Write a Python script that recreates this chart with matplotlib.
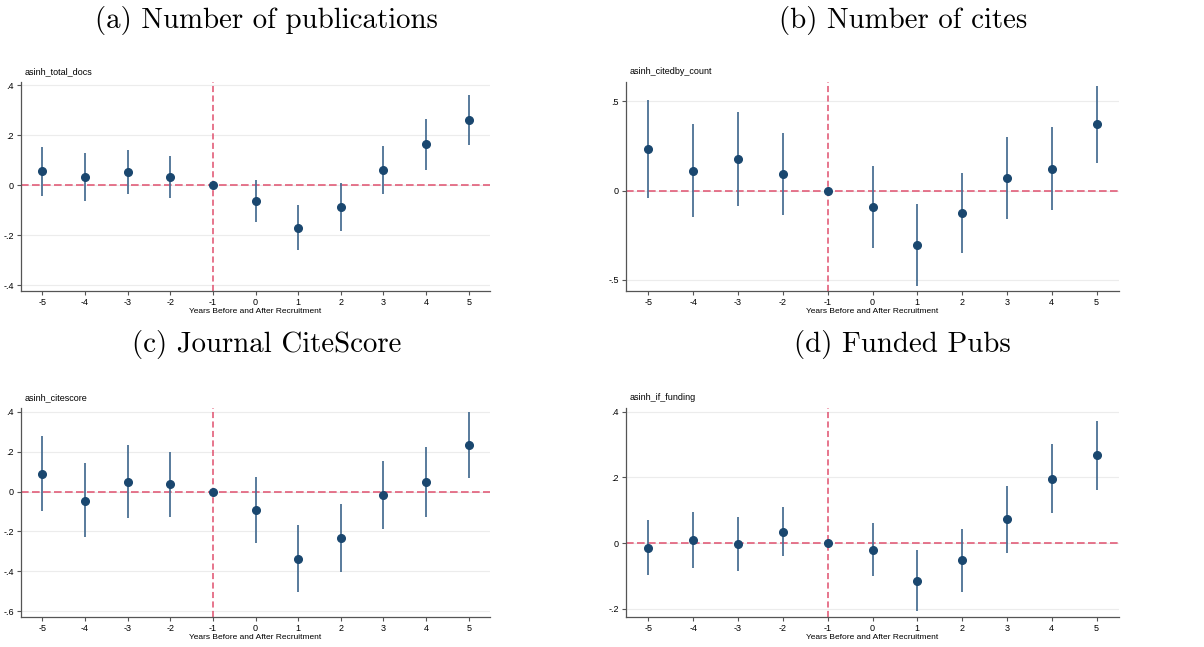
import matplotlib
matplotlib.use("Agg")
import matplotlib.pyplot as plt
import numpy as np

# event time relative to recruitment
years = [-5, -4, -3, -2, -1, 0, 1, 2, 3, 4, 5]

# (a) publications
docs_coef = [0.057, 0.033, 0.052, 0.033, 0.0, -0.063, -0.169, -0.087, 0.061, 0.164, 0.261]
docs_hi = [0.155, 0.128, 0.141, 0.117, 0.0, 0.021, -0.079, 0.008, 0.159, 0.267, 0.361]
docs_lo = [-0.041, -0.061, -0.036, -0.049, 0.0, -0.147, -0.259, -0.181, -0.035, 0.063, 0.161]

# (b) cites
cites_coef = [0.234, 0.112, 0.178, 0.093, 0.0, -0.090, -0.303, -0.125, 0.071, 0.123, 0.372]
cites_hi = [0.510, 0.376, 0.441, 0.323, 0.0, 0.138, -0.073, 0.099, 0.299, 0.355, 0.589]
cites_lo = [-0.041, -0.148, -0.086, -0.136, 0.0, -0.320, -0.533, -0.348, -0.157, -0.107, 0.157]

# (c) citescore
cs_coef = [0.090, -0.045, 0.050, 0.037, 0.0, -0.093, -0.337, -0.232, -0.018, 0.047, 0.233]
cs_hi = [0.277, 0.142, 0.233, 0.200, 0.0, 0.073, -0.168, -0.062, 0.152, 0.223, 0.400]
cs_lo = [-0.097, -0.230, -0.135, -0.130, 0.0, -0.258, -0.502, -0.402, -0.188, -0.130, 0.068]

# (d) funded pubs
fund_coef = [-0.014, 0.008, -0.003, 0.035, 0.0, -0.021, -0.114, -0.053, 0.072, 0.196, 0.267]
fund_hi = [0.070, 0.093, 0.080, 0.110, 0.0, 0.060, -0.022, 0.044, 0.174, 0.301, 0.372]
fund_lo = [-0.098, -0.077, -0.085, -0.039, 0.0, -0.101, -0.207, -0.150, -0.029, 0.091, 0.162]

NAVY = "#1a476f"
CI = "#4b7194"
RED = "#e0506e"
SANS = "Liberation Sans"

W, H = 1204, 647
fig = plt.figure(figsize=(W / 100, H / 100), dpi=100)


def px_axes(left, top, right, bottom):
    return fig.add_axes([left / W, 1 - bottom / H, (right - left) / W, (bottom - top) / H])


def stata_fmt(v):
    if abs(v) < 1e-9:
        return "0"
    s = f"{v:g}"
    return s.replace("0.", ".")


def coefplot(ax, coef, lo, hi, yticks, ylim, varname):
    x = np.array(years)
    ax.vlines(x, lo, hi, color=CI, lw=1.3, zorder=3)
    ax.plot(x, coef, "o", color=NAVY, ms=5.5, zorder=4)
    ax.axhline(0, color=RED, lw=1.1, dashes=(5, 2.2), zorder=2)
    ax.axvline(-1, color=RED, lw=1.1, dashes=(4, 2.2), zorder=2)
    ax.set_xlim(-5.5, 5.5)
    ax.set_ylim(*ylim)
    ax.set_xticks(years)
    ax.set_xticklabels([str(v) for v in years], fontfamily=SANS, fontsize=6.5)
    ax.set_yticks(yticks)
    ax.set_yticklabels([stata_fmt(v) for v in yticks], fontfamily=SANS, fontsize=6.5)
    ax.grid(axis="y", color="#ececec", lw=0.8)
    ax.set_axisbelow(True)
    for side in ("top", "right"):
        ax.spines[side].set_visible(False)
    for side in ("left", "bottom"):
        ax.spines[side].set_color("#555555")
        ax.spines[side].set_linewidth(0.9)
    ax.tick_params(length=3, width=0.8, color="#555555", pad=2)
    ax.set_xlabel("Years Before and After Recruitment", fontfamily=SANS, fontsize=6.0, labelpad=1)
    ax.text(0.008, 1.03, varname, transform=ax.transAxes, fontfamily=SANS,
            fontsize=6.5, ha="left", va="bottom")


ax_a = px_axes(21, 82, 490, 291)
coefplot(ax_a, docs_coef, docs_lo, docs_hi, [-0.4, -0.2, 0, 0.2, 0.4], (-0.423, 0.414), "asinh_total_docs")

ax_b = px_axes(626, 82, 1119, 291)
coefplot(ax_b, cites_coef, cites_lo, cites_hi, [-0.5, 0, 0.5], (-0.563, 0.609), "asinh_citedby_count")

ax_c = px_axes(21, 408, 490, 617)
coefplot(ax_c, cs_coef, cs_lo, cs_hi, [-0.6, -0.4, -0.2, 0, 0.2, 0.4], (-0.628, 0.418), "asinh_citescore")

ax_d = px_axes(626, 408, 1119, 617)
coefplot(ax_d, fund_coef, fund_lo, fund_hi, [-0.2, 0, 0.2, 0.4], (-0.225, 0.411), "asinh_if_funding")

# subfigure captions, baseline placed in pixels
titles = [
    ("(a) Number of publications", 266, 28),
    ("(b) Number of cites", 903, 28),
    ("(c) Journal CiteScore", 267, 352),
    ("(d) Funded Pubs", 902, 352),
]
for label, cx, by in titles:
    fig.text(cx / W, 1 - by / H, label, fontfamily="cmr10", fontsize=20.8,
             ha="center", va="baseline")

fig.savefig("out.png", dpi=100)
